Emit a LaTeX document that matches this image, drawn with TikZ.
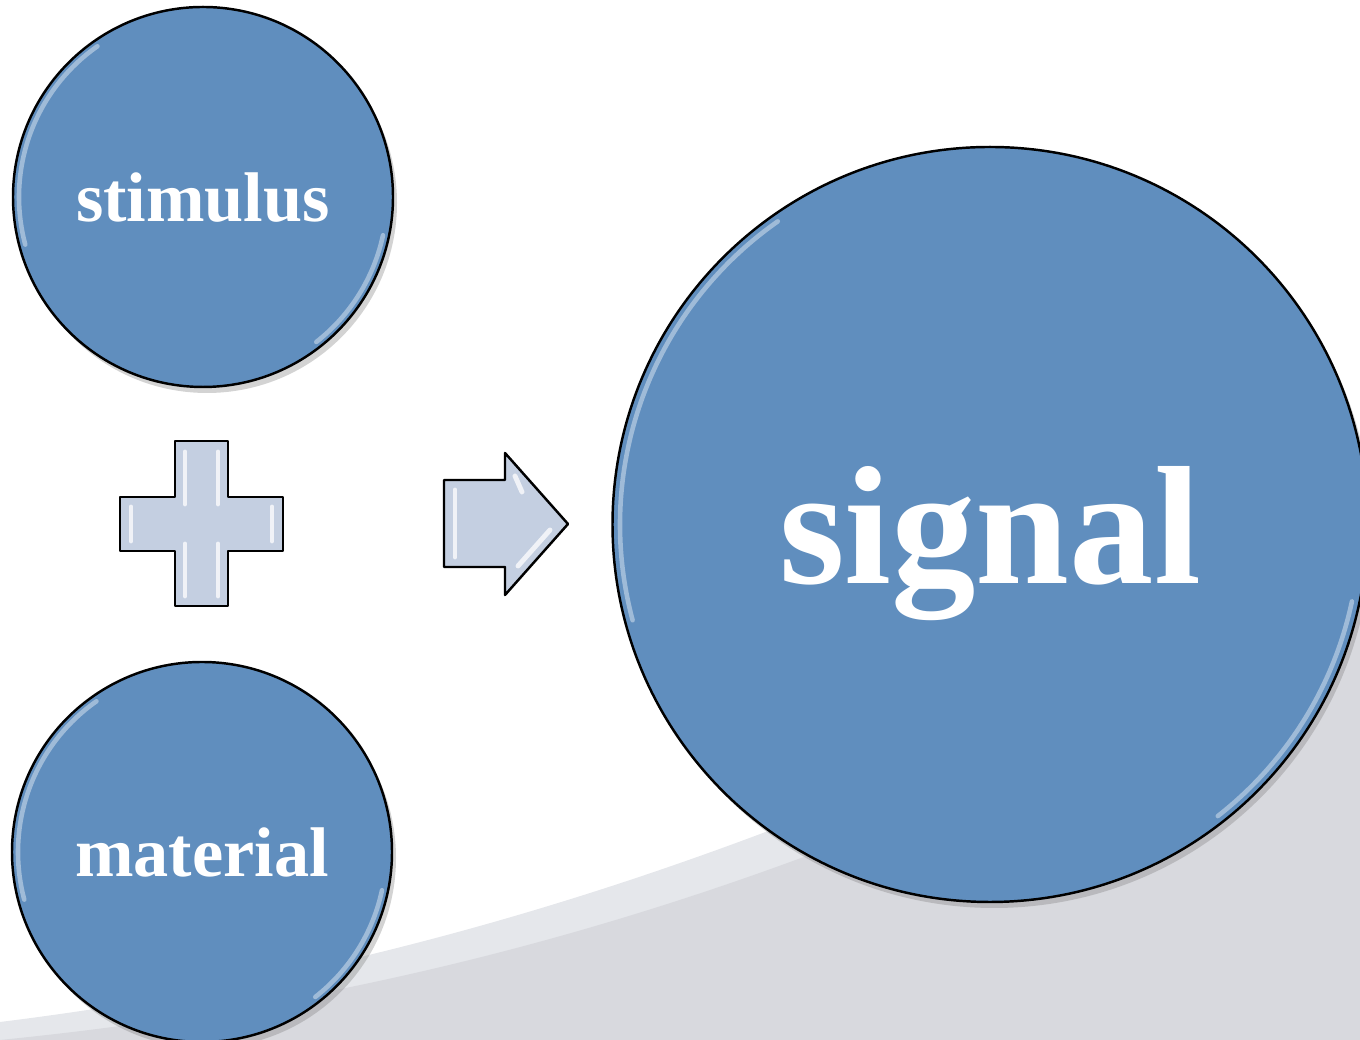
\documentclass[tikz,border=0pt]{standalone}
\usepackage{fontspec}
\setmainfont{Liberation Serif}
\usetikzlibrary{shadows}
\definecolor{ballblue}{RGB}{96,142,190}
\definecolor{signblue}{RGB}{196,207,225}
\definecolor{floorgray}{RGB}{216,217,222}
\definecolor{bandgray}{RGB}{229,231,235}

\begin{document}
\begin{tikzpicture}[
  ball/.style={circle, draw=black, line width=0.7pt, fill=ballblue, text=white, text depth=0pt, inner sep=0pt,
    drop shadow={shadow xshift=0.4mm, shadow yshift=-0.6mm, opacity=0.35}},
  smalltxt/.style={font=\bfseries\fontsize{20}{24}\selectfont},
  bigtxt/.style={font=\bfseries\fontsize{48}{56}\selectfont},
  sign/.style={draw=black, line width=0.7pt, fill=signblue, line join=round},
  shine/.style={white, line width=1.4pt, opacity=0.75, line cap=round},
  rim/.style={white, line width=1.3pt, opacity=0.4, line cap=round}]
\useasboundingbox (0,0) rectangle (13.6,10.4);
\clip (0,0) rectangle (13.6,10.4);
% floor
\fill[bandgray] (0,0.18) .. controls (5,0.8) and (9,2.4) .. (13.6,4.8) -- (13.6,0) -- (0,0) -- cycle;
\fill[floorgray] (0,0) .. controls (5,0.5) and (9,1.9) .. (13.6,4.4) -- (13.6,0) -- cycle;
% circles
\node[ball, smalltxt, minimum size=3.8cm] (stim) at (2.03,8.43) {stimulus};
\node[ball, smalltxt, minimum size=3.8cm] (mat) at (2.02,1.88) {material};
\node[ball, bigtxt, minimum size=7.55cm] (sig) at (9.90,5.155) {signal};
\foreach \n/\r in {stim/1.84, mat/1.84, sig/3.70} {
  \draw[rim] ([shift={(125:\r)}]\n.center) arc[start angle=125, end angle=195, radius=\r];
  \draw[rim] ([shift={(-12:\r)}]\n.center) arc[start angle=-12, end angle=-52, radius=\r];
}
% plus
\draw[sign] (1.75,5.99) -- (2.28,5.99) -- (2.28,5.43) -- (2.83,5.43) -- (2.83,4.89) -- (2.28,4.89)
  -- (2.28,4.34) -- (1.75,4.34) -- (1.75,4.89) -- (1.20,4.89) -- (1.20,5.43) -- (1.75,5.43) -- cycle;
\draw[shine] (1.85,5.88) -- (1.85,5.36) (2.18,5.88) -- (2.18,5.36);
\draw[shine] (1.85,4.96) -- (1.85,4.44) (2.18,4.96) -- (2.18,4.44);
\draw[shine] (1.31,5.33) -- (1.31,4.99) (2.72,5.33) -- (2.72,4.99);
% arrow
\draw[sign] (4.44,5.60) -- (5.05,5.60) -- (5.05,5.87) -- (5.68,5.16) -- (5.05,4.45) -- (5.05,4.73)
  -- (4.44,4.73) -- cycle;
\draw[shine] (4.55,5.50) -- (4.55,4.83);
\draw[shine] (5.15,5.64) -- (5.22,5.48) (5.18,4.74) -- (5.50,5.10);
\end{tikzpicture}
\end{document}
